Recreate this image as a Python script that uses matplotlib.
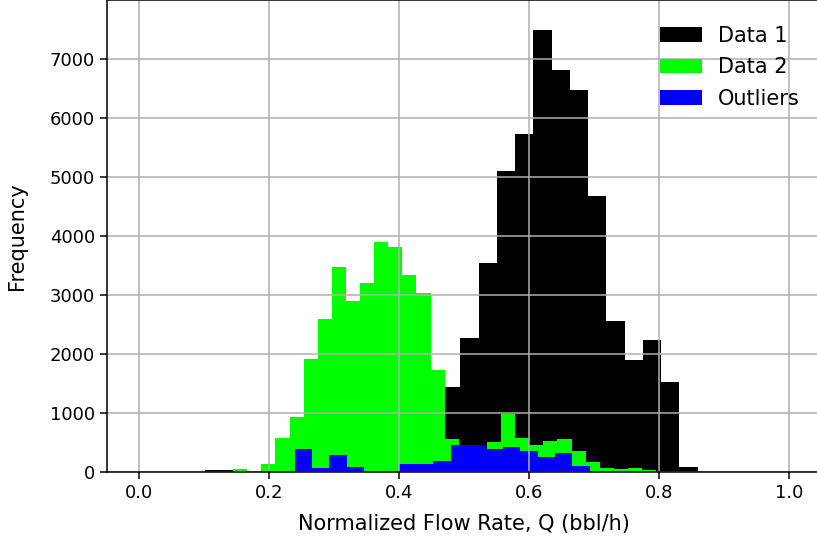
import numpy as np
import matplotlib
matplotlib.use('Agg')
import matplotlib.pyplot as plt

# histogram counts (equal-width bins)
d1_range = (0.1015, 0.8596)
d1_counts = [30, 30, 0, 20, 30, 60, 90, 130, 180, 260, 380, 600, 1000, 1446,
             2271, 3542, 5102, 5729, 7492, 6814, 6475, 4678, 2559, 1898, 2237,
             1525, 85]

d2_range = (0.1446, 0.7959)
d2_counts = [45, 0, 141, 581, 937, 1920, 2593, 3475, 2898, 3203, 3898, 3814,
             3339, 3039, 1729, 559, 420, 380, 508, 983, 576, 458, 525, 559, 356,
             169, 70, 51, 70, 34]

out_range = (0.2395, 0.6934)
out_counts = [390, 68, 288, 85, 0, 0, 136, 136, 186, 458, 458, 390, 424, 356,
              254, 322, 102]

labels = ['Data 1', 'Data 2', 'Outliers']
colors = ['#000000', '#00ff00', '#0000ff']


def draw_hist(ax, rng, counts, color, label):
    edges = np.linspace(rng[0], rng[1], len(counts) + 1)
    ax.bar(edges[:-1], counts, width=np.diff(edges), align='edge',
           color=color, linewidth=0, label=label)


fig = plt.figure(figsize=(8.17, 5.40), dpi=100)
ax = fig.add_axes([106.7 / 817, 68 / 540, 714.5 / 817, 472 / 540])

draw_hist(ax, d1_range, d1_counts, colors[0], labels[0])
draw_hist(ax, d2_range, d2_counts, colors[1], labels[1])
draw_hist(ax, out_range, out_counts, colors[2], labels[2])

ax.set_xlim(-0.05, 1.05)
ax.set_ylim(0, 8000)
ax.set_xticks([0.0, 0.2, 0.4, 0.6, 0.8, 1.0])
ax.set_yticks(range(0, 8000, 1000))
ax.grid(True, color='#b0b0b0', linewidth=1.1)
for s in ax.spines.values():
    s.set_linewidth(1.1)
ax.tick_params(labelsize=13, length=5, width=1.1)

ax.set_xlabel('Normalized Flow Rate, Q (bbl/h)', fontsize=15, labelpad=9)
ax.set_ylabel('Frequency', fontsize=15, labelpad=16)

ax.legend(loc='upper left', bbox_to_anchor=(660 / 817, 1 - 26 / 540),
          bbox_transform=fig.transFigure, frameon=False, fontsize=15,
          borderpad=0, borderaxespad=0, labelspacing=0.55)

fig.savefig('out.png', dpi=100)
